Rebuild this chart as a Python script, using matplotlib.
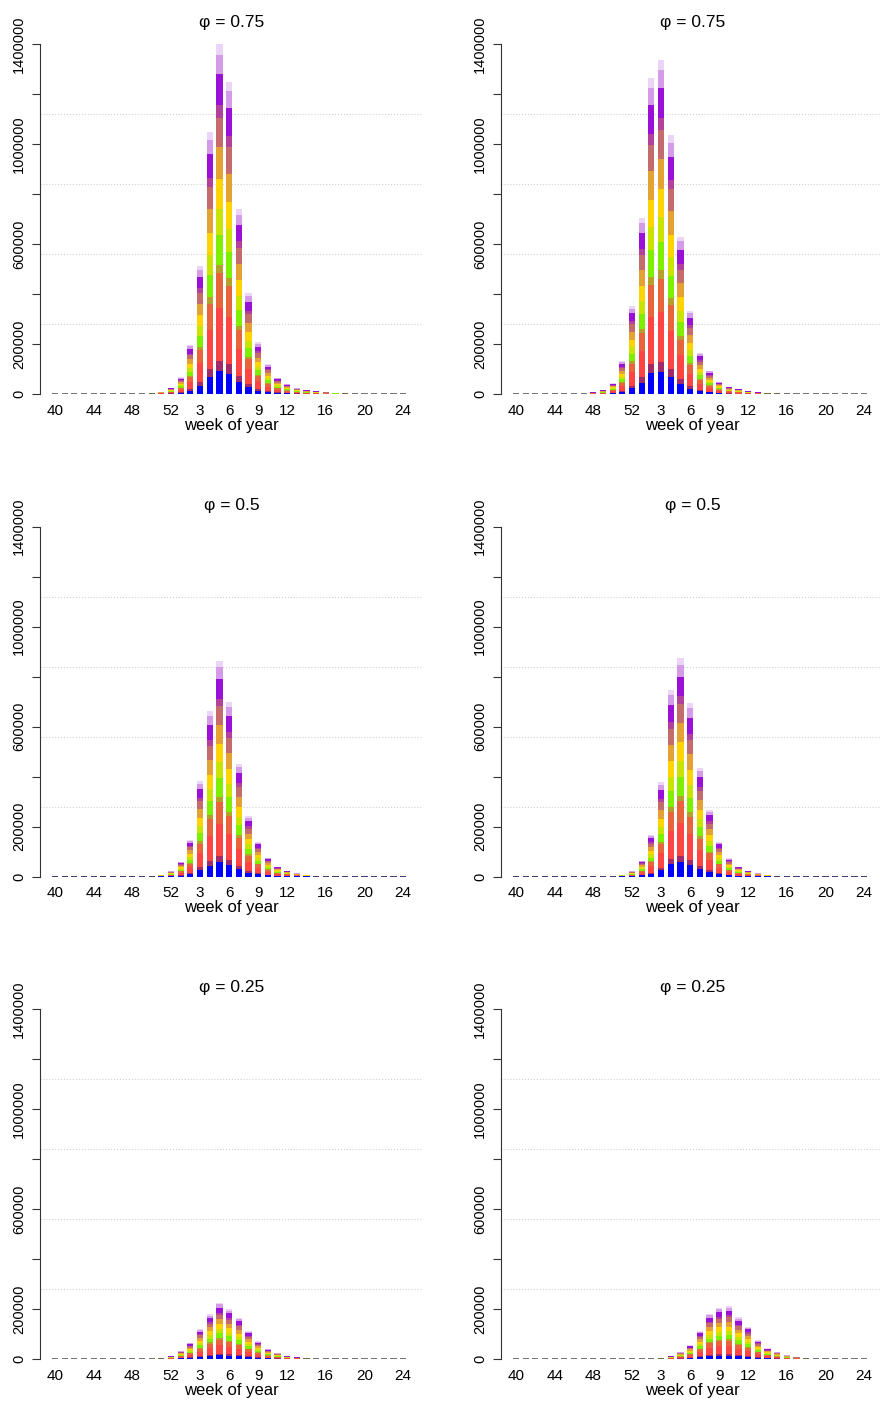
import numpy as np
import matplotlib
matplotlib.use("Agg")
import matplotlib.pyplot as plt

plt.rcParams['font.family'] = ['Liberation Sans', 'DejaVu Sans']

# weeks 40..52 of one year, then 1..24 of the next
weeks = list(range(40, 53)) + list(range(1, 25))
tick_weeks = [40, 44, 48, 52, 3, 6, 9, 12, 16, 20, 24]
titles = ['φ = 0.75', 'φ = 0.75', 'φ = 0.5', 'φ = 0.5', 'φ = 0.25', 'φ = 0.25']

# weekly totals (thousands)
phi75_left = [1, 1, 1, 1, 1, 1, 1, 1, 1, 2, 4, 9, 25,
              66, 196, 512, 1047, 1400, 1249, 740, 403, 207, 119, 65, 40,
              23, 16, 12, 8, 5, 3, 2, 1, 1, 1, 1, 1]
phi75_right = [1, 1, 1, 1, 1, 1, 1, 2, 7, 16, 43, 132, 352,
               705, 1263, 1336, 1036, 629, 333, 164, 93, 49, 29, 20, 12,
               7, 4, 3, 2, 1, 1, 1, 1, 1, 1, 1, 1]
phi50_left = [1, 1, 1, 1, 1, 1, 1, 1, 1, 1, 3, 7, 21,
              59, 148, 382, 662, 862, 700, 452, 243, 140, 76, 40, 24,
              13, 7, 4, 3, 2, 1, 1, 1, 1, 1, 1, 1]
phi50_right = [1, 1, 1, 1, 1, 1, 1, 1, 1, 3, 4, 8, 21,
               64, 167, 377, 748, 873, 693, 433, 267, 140, 73, 40, 24,
               13, 7, 4, 3, 2, 1, 1, 1, 1, 1, 1, 1]
phi25_left = [1, 1, 1, 1, 1, 1, 1, 1, 1, 1, 2, 3, 12,
              32, 65, 120, 179, 225, 199, 165, 112, 72, 40, 23, 12,
              7, 4, 2, 1, 1, 1, 1, 1, 1, 1, 1, 1]
phi25_right = [1, 1, 1, 1, 1, 1, 1, 1, 1, 1, 1, 2, 2,
               2, 2, 4, 12, 28, 55, 112, 180, 205, 211, 167, 129,
               76, 43, 28, 15, 8, 4, 2, 1, 1, 1, 1, 1]
panels = [phi75_left, phi75_right, phi50_left, phi50_right, phi25_left, phi25_right]

# share of each stacked layer (bottom to top) and its colour
layer_share = [0.065, 0.03, 0.15, 0.10, 0.025, 0.085, 0.075,
               0.085, 0.09, 0.085, 0.035, 0.09, 0.055, 0.03]
layer_colors = ['#0000ff', '#a02a6a', '#ff4444', '#e8643a', '#b4a02a', '#80ee00',
                '#c8e400', '#ffd400', '#e4a234', '#c46c6c', '#b2419c', '#9a10d6',
                '#d49ce8', '#ecd4f6']

ymax = 1400000
yticks = np.arange(0, ymax + 1, 200000)
shown = [0, 200000, 600000, 1000000, 1400000]

W, H = 881, 1402
fig = plt.figure(figsize=(W / 100, H / 100), dpi=100)
col_left = [40, 501]
row_top = [44, 526.5, 1009]
x = np.arange(len(weeks))

for k, vals in enumerate(panels):
    left = col_left[k % 2]
    top = row_top[k // 2]
    ax = fig.add_axes([left / W, 1 - (top + 350) / H, 383 / W, 350 / H])
    totals = np.array(vals) * 1000.0

    for g in np.linspace(0, ymax, 6)[1:-1]:
        ax.axhline(g, color='#d0d0d0', linestyle=':', linewidth=0.8, zorder=0)

    bottom = np.zeros(len(x))
    for share, col in zip(layer_share, layer_colors):
        h = totals * share
        ax.bar(x, h, bottom=bottom, width=0.64, color=col, linewidth=0, zorder=2)
        bottom += h

    # near-empty weeks show up as short dark dashes on the baseline
    tiny = totals < 5000
    ax.bar(x[tiny], 0, width=0.64, facecolor='none', edgecolor='#505050',
           linewidth=1.1, zorder=3)

    ax.set_xlim(-1.55, 38.05)
    ax.set_ylim(0, ymax)
    for s in ['top', 'right', 'bottom']:
        ax.spines[s].set_visible(False)
    ax.spines['left'].set_bounds(0, ymax)
    ax.spines['left'].set_color('#333333')

    ax.set_yticks(yticks)
    ax.set_yticklabels([str(v) if v in shown else '' for v in yticks])
    ax.tick_params(axis='y', length=6, width=0.8, color='#333333', pad=4,
                   labelsize=10.5, labelrotation=90)
    for lab in ax.get_yticklabels():
        lab.set_va('center')

    ax.set_xticks([weeks.index(w) for w in tick_weeks])
    ax.set_xticklabels([str(w) for w in tick_weeks])
    ax.tick_params(axis='x', length=0, pad=7, labelsize=11)
    ax.set_xlabel('week of year', fontsize=12, labelpad=0)
    ax.set_title(titles[k], fontsize=12.5, pad=12)

fig.savefig('out.png', dpi=100)
